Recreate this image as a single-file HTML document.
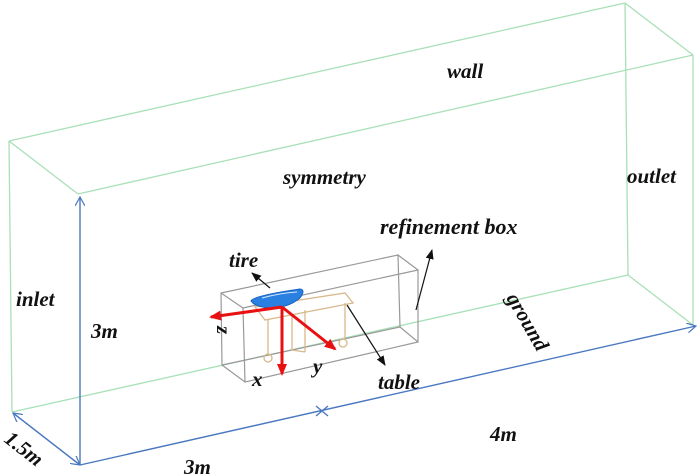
<!DOCTYPE html>
<html><head><style>
html,body{margin:0;padding:0;background:#fff;}
svg{display:block;}
text{font-family:"Liberation Serif",serif;font-style:italic;font-weight:bold;fill:#111;}
</style></head><body>
<svg width="700" height="475" viewBox="0 0 700 475" xmlns="http://www.w3.org/2000/svg">
<defs>
<marker id="ab" markerWidth="10" markerHeight="10" refX="9" refY="5" orient="auto" markerUnits="userSpaceOnUse"><path d="M0,0 L9,5 L0,10" fill="none" stroke="#4a78c0" stroke-width="1.2"/></marker>
<marker id="ak" markerWidth="10" markerHeight="8" refX="9" refY="4" orient="auto" markerUnits="userSpaceOnUse"><path d="M0,0 L10,4 L0,8 z" fill="#111"/></marker>
<marker id="ar" markerWidth="12" markerHeight="10" refX="10" refY="5" orient="auto" markerUnits="userSpaceOnUse"><path d="M0,0 L12,5 L0,10 z" fill="#e81010"/></marker>
</defs>
<g stroke="#a8e0b8" stroke-width="1.3" fill="none">
<line x1="9" y1="141" x2="625" y2="3"/>
<line x1="78" y1="194" x2="693" y2="55"/>
<line x1="9" y1="141" x2="78" y2="194"/>
<line x1="625" y1="3" x2="693" y2="55"/>
<line x1="9" y1="141" x2="12" y2="412"/>
<line x1="625" y1="3" x2="628" y2="275"/>
<line x1="693" y1="55" x2="693" y2="325"/>
<line x1="12" y1="412" x2="628" y2="275"/>
<line x1="628" y1="275" x2="693" y2="325"/>
</g>
<g stroke="#4a78c0" stroke-width="1.4" fill="none">
<line x1="80" y1="465" x2="80" y2="197" marker-end="url(#ab)"/>
<line x1="80" y1="465" x2="13" y2="413" marker-end="url(#ab)"/>
<line x1="80" y1="465" x2="696" y2="326" marker-end="url(#ab)"/>
<line x1="13" y1="413" x2="80" y2="465" marker-end="url(#ab)"/>
<line x1="316" y1="406" x2="328" y2="416"/>
<line x1="316" y1="416" x2="328" y2="406"/>
</g>
<g stroke="#999" stroke-width="1.2" fill="none">
<polygon points="221,293 398,255 400,327 222,365"/>
<polygon points="243,308 418,270 418,342 245,382"/>
<line x1="221" y1="293" x2="243" y2="308"/><line x1="398" y1="255" x2="418" y2="270"/>
<line x1="400" y1="327" x2="418" y2="342"/><line x1="222" y1="365" x2="245" y2="382"/>
</g>
<g stroke="#d8b88a" stroke-width="1.3" fill="none">
<polygon points="255,307 345,293 353,303 265,320"/>
<line x1="268" y1="320" x2="268" y2="355"/><line x1="345" y1="303" x2="345" y2="340"/>
<line x1="292" y1="315" x2="292" y2="350"/><line x1="305" y1="310" x2="305" y2="352"/>
<circle cx="268" cy="358" r="4"/><circle cx="343" cy="343" r="4"/>
<line x1="292" y1="350" x2="305" y2="352"/>
</g>
<path d="M251,301 Q252,296 300,289 Q306,290 300,298 Q288,308 270,308 Q255,307 251,301 z" fill="#2a80e0" stroke="#1a60c0"/>
<path d="M262,298 Q280,293 297,292" stroke="#cfe6ff" fill="none"/>
<g stroke="#e81010" stroke-width="3" fill="none">
<line x1="282" y1="307" x2="211" y2="317" marker-end="url(#ar)"/>
<line x1="282" y1="307" x2="282" y2="374" marker-end="url(#ar)"/>
<line x1="282" y1="307" x2="335" y2="349" marker-end="url(#ar)"/>
</g>
<g stroke="#111" stroke-width="1.2">
<line x1="270" y1="288" x2="252" y2="273" marker-end="url(#ak)"/>
<line x1="347" y1="305" x2="385" y2="365" marker-end="url(#ak)"/>
<line x1="416" y1="310" x2="432" y2="250" marker-end="url(#ak)"/>
</g>
<g font-size="21">
<text x="447" y="78">wall</text>
<text x="283" y="184">symmetry</text>
<text x="627" y="183">outlet</text>
<text x="380" y="234" font-size="22">refinement box</text>
<text x="229" y="267">tire</text>
<text x="16" y="306">inlet</text>
<text x="91" y="338">3m</text>
<text x="490" y="441">4m</text>
<text x="184" y="474">3m</text>
<text x="378" y="389">table</text>
<text x="252" y="386">x</text>
<text x="313" y="373">y</text>
<text x="0" y="0" transform="translate(217,326) rotate(90)">z</text>
<text x="0" y="0" transform="translate(506,298) rotate(60)">ground</text>
<text x="0" y="0" transform="translate(3,441) rotate(38)">1.5m</text>
</g>
</svg>
</body></html>
